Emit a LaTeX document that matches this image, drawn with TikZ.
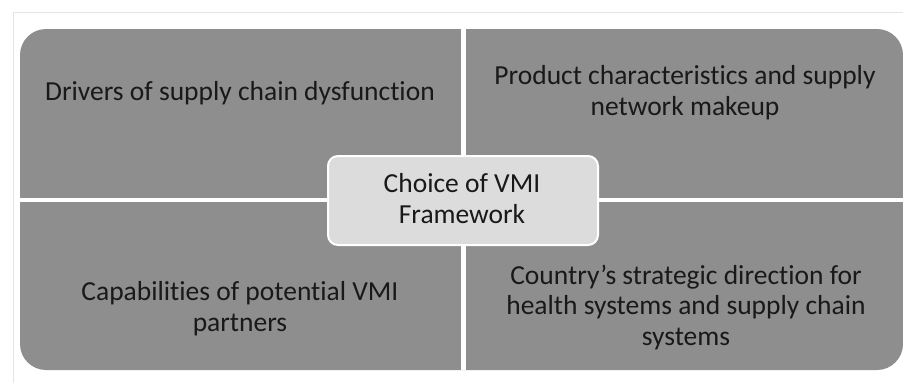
\documentclass[tikz,border=0pt]{standalone}
\usepackage{fontspec}
\setmainfont{Carlito}[Ligatures={NoCommon}]
\definecolor{quad}{RGB}{142,142,142}
\definecolor{centerfill}{RGB}{220,220,220}
\definecolor{txt}{RGB}{25,25,25}
\definecolor{frameline}{RGB}{228,228,228}
\tikzset{
  quadtext/.style={align=center, inner sep=0pt, anchor=base, text=txt,
    font=\fontsize{27.5pt}{30.5pt}\selectfont},
  centerbox/.style={draw=white, line width=2pt, fill=centerfill, rounded corners=10pt,
    minimum width=270pt, minimum height=89pt, inner sep=0pt}
}
\begin{document}
\begin{tikzpicture}[x=1pt,y=-1pt]
\useasboundingbox (0,0) rectangle (903,383);
% faint frame lines
\draw[frameline, line width=0.8pt] (13,12) -- (903,12);
\draw[frameline, line width=0.8pt] (13,12) -- (13,383);
% quadrants as one rounded block split by white gaps
\fill[quad, rounded corners=26pt] (20,29) rectangle (903,370);
\fill[white] (461,29) rectangle (466,370);
\fill[white] (20,198) rectangle (903,202);
% texts (base = baseline of last line)
\node[quadtext] (tl) at (240,100) {Drivers of supply chain dysfunction};
\node[quadtext] (tr) at (685,115) {Product characteristics and supply\\network makeup};
\node[quadtext] (bl) at (240,331) {Capabilities of potential VMI\\partners};
\node[quadtext] (br) at (686,345) {Country’s strategic direction for\\health systems and supply chain\\systems};
% centre
\node[centerbox] (c) at (463,200.5) {};
\node[quadtext] (ct) at (462,223) {Choice of VMI\\Framework};
\end{tikzpicture}
\end{document}
